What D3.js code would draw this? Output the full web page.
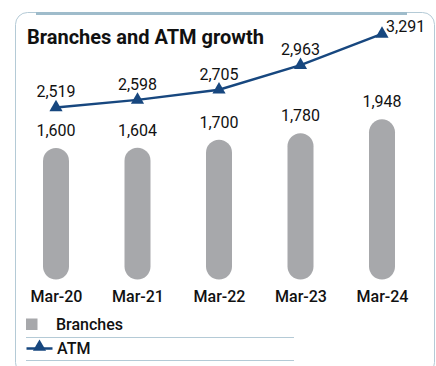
<!DOCTYPE html>
<html>
<head>
<meta charset="utf-8">
<script src="https://cdn.jsdelivr.net/npm/d3@7"></script>
<style>
  html, body { margin: 0; padding: 0; background: #ffffff; }
  svg { display: block; font-family: Roboto, "Noto Sans", sans-serif; }
</style>
</head>
<body>
<svg id="chart" width="436" height="366"></svg>
<script>
// Fiscal year-end periods
const categories = ["Mar-20", "Mar-21", "Mar-22", "Mar-23", "Mar-24"];
// Number of branches
const branches = [1600, 1604, 1700, 1780, 1948];
// Number of ATMs
const atms = [2519, 2598, 2705, 2963, 3291];
const legendLabels = ["Branches", "ATM"];
const title = "Branches and ATM growth";

const fmt = d3.format(",");
const svg = d3.select("#chart");

const barColor = "#a7a8ab";
const lineColor = "#17477f";
const frameColor = "#b4cad6";

// Card frame
svg.append("rect")
  .attr("x", 15.5).attr("y", 12.5)
  .attr("width", 419).attr("height", 362)
  .attr("rx", 12).attr("ry", 12)
  .attr("fill", "#fff")
  .attr("stroke", frameColor)
  .attr("stroke-width", 1);
svg.append("line")
  .attr("x1", 36).attr("x2", 407)
  .attr("y1", 13.5).attr("y2", 13.5)
  .attr("stroke", "#9fbccb")
  .attr("stroke-width", 3);

svg.append("text")
  .attr("x", 27).attr("y", 43.5)
  .attr("font-size", 20).attr("font-weight", 700)
  .attr("fill", "#111")
  .text(title);

// Scales
const x = d3.scalePoint().domain(categories).range([56, 382]);
const yBar = d3.scaleLinear().domain([0, 2000]).range([279.5, 115.1]);
const yLine = d3.scaleLinear().domain([2500, 3300]).range([109.2, 33.1]);

const barW = 26;

// Branch bars (fully rounded columns)
svg.append("g").selectAll("rect")
  .data(branches)
  .join("rect")
  .attr("x", (d, i) => x(categories[i]) - barW / 2)
  .attr("y", d => yBar(d))
  .attr("width", barW)
  .attr("height", d => yBar(0) - yBar(d))
  .attr("rx", barW / 2).attr("ry", barW / 2)
  .attr("fill", barColor);

svg.append("g").selectAll("text")
  .data(branches)
  .join("text")
  .attr("x", (d, i) => x(categories[i]))
  .attr("y", d => yBar(d) - 12)
  .attr("text-anchor", "middle")
  .attr("font-size", 16)
  .attr("fill", "#111")
  .text(d => fmt(d));

// Category axis
const xAxis = svg.append("g")
  .attr("transform", "translate(0,286)")
  .call(d3.axisBottom(x).tickSize(0).tickPadding(0));
xAxis.select(".domain").remove();
xAxis.selectAll("text")
  .attr("dy", "1em")
  .attr("font-size", 16)
  .attr("font-weight", 500)
  .attr("font-family", "Roboto, sans-serif")
  .attr("fill", "#111");

// ATM line
const line = d3.line()
  .x((d, i) => x(categories[i]))
  .y(d => yLine(d));
svg.append("path")
  .datum(atms)
  .attr("d", line)
  .attr("fill", "none")
  .attr("stroke", lineColor)
  .attr("stroke-width", 2.5);

const tri = d3.symbol().type(d3.symbolTriangle).size(75);
svg.append("g").selectAll("path")
  .data(atms)
  .join("path")
  .attr("d", tri)
  .attr("transform", (d, i) => `translate(${x(categories[i])},${yLine(d)})`)
  .attr("fill", lineColor);

svg.append("g").selectAll("text")
  .data(atms)
  .join("text")
  .attr("x", (d, i) => i === atms.length - 1 ? x(categories[i]) + 4 : x(categories[i]))
  .attr("y", (d, i) => i === atms.length - 1 ? yLine(d) - 2 : yLine(d) - 10)
  .attr("text-anchor", (d, i) => i === atms.length - 1 ? "start" : "middle")
  .attr("font-size", 16)
  .attr("fill", "#111")
  .text(d => fmt(d));

// Legend
const legend = svg.append("g");
legend.append("rect")
  .attr("x", 26).attr("y", 318.5)
  .attr("width", 11.5).attr("height", 11.5)
  .attr("fill", barColor);
legend.append("text")
  .attr("x", 56).attr("y", 329.5)
  .attr("font-size", 16).attr("font-weight", 500)
  .attr("fill", "#111")
  .text(legendLabels[0]);
legend.append("line")
  .attr("x1", 26).attr("x2", 294)
  .attr("y1", 337.5).attr("y2", 337.5)
  .attr("stroke", frameColor).attr("stroke-width", 1);
legend.append("line")
  .attr("x1", 26.5).attr("x2", 52.5)
  .attr("y1", 348.5).attr("y2", 348.5)
  .attr("stroke", lineColor).attr("stroke-width", 2.5);
legend.append("path")
  .attr("d", tri)
  .attr("transform", "translate(39.5,347)")
  .attr("fill", lineColor);
legend.append("text")
  .attr("x", 57).attr("y", 354)
  .attr("font-size", 16).attr("font-weight", 500)
  .attr("fill", "#111")
  .text(legendLabels[1]);
legend.append("line")
  .attr("x1", 26).attr("x2", 294)
  .attr("y1", 360.5).attr("y2", 360.5)
  .attr("stroke", frameColor).attr("stroke-width", 1);
</script>
</body>
</html>
